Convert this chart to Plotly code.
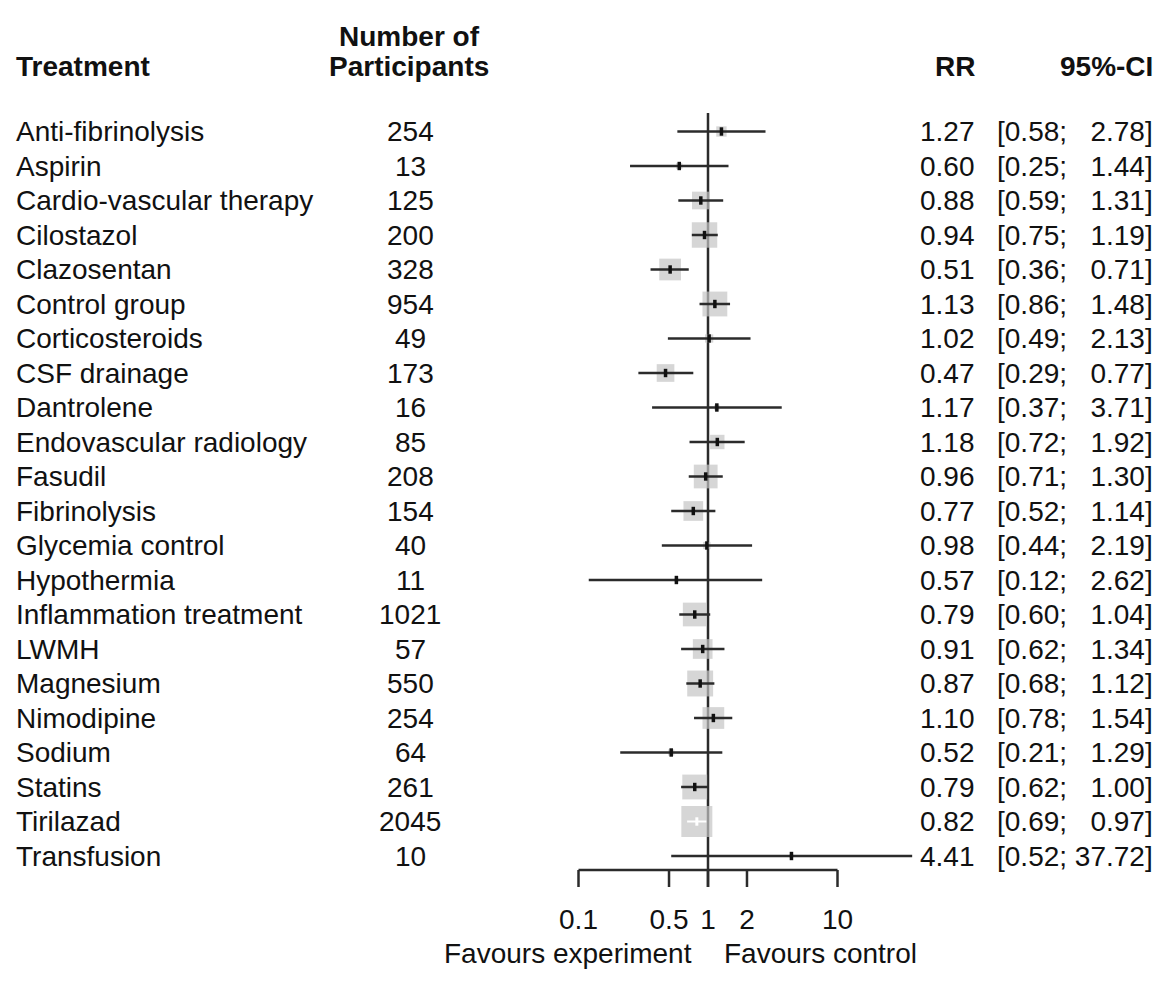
import math
import plotly.graph_objects as go

# forest plot data (risk ratios per treatment)
treatments = [
    "Anti-fibrinolysis", "Aspirin", "Cardio-vascular therapy", "Cilostazol",
    "Clazosentan", "Control group", "Corticosteroids", "CSF drainage",
    "Dantrolene", "Endovascular radiology", "Fasudil", "Fibrinolysis",
    "Glycemia control", "Hypothermia", "Inflammation treatment", "LWMH",
    "Magnesium", "Nimodipine", "Sodium", "Statins", "Tirilazad", "Transfusion",
]
participants = [254, 13, 125, 200, 328, 954, 49, 173, 16, 85, 208, 154,
                40, 11, 1021, 57, 550, 254, 64, 261, 2045, 10]
rr = [1.27, 0.60, 0.88, 0.94, 0.51, 1.13, 1.02, 0.47, 1.17, 1.18, 0.96,
      0.77, 0.98, 0.57, 0.79, 0.91, 0.87, 1.10, 0.52, 0.79, 0.82, 4.41]
ci_low = [0.58, 0.25, 0.59, 0.75, 0.36, 0.86, 0.49, 0.29, 0.37, 0.72, 0.71,
          0.52, 0.44, 0.12, 0.60, 0.62, 0.68, 0.78, 0.21, 0.62, 0.69, 0.52]
ci_high = [2.78, 1.44, 1.31, 1.19, 0.71, 1.48, 2.13, 0.77, 3.71, 1.92, 1.30,
           1.14, 2.19, 2.62, 1.04, 1.34, 1.12, 1.54, 1.29, 1.00, 0.97, 37.72]
# relative weights (%) -> square area
weights = [1.4, 0.5, 4.1, 8.5, 6.2, 8.1, 0.9, 4.1, 0.4, 2.7, 7.4, 5.1,
           0.7, 0.2, 7.4, 5.1, 8.8, 6.2, 0.5, 8.1, 12.6, 0.2]
tick_vals = [0.1, 0.5, 1, 2, 10]
tick_text = ["0.1", "0.5", "1", "2", "10"]

W, H = 1170, 985
ROW0, ROW_STEP = 131.5, 34.5   # pixel y of first row, row spacing
X_ONE, DECADE = 708, 129.5     # pixel x of RR=1, pixels per decade
FONT = 28
MAX_SIDE = 31
LINE_COL = "#2b2b2b"


def row_of(py):
    return (py - ROW0) / ROW_STEP


def xpix(v):
    return X_ONE + DECADE * math.log10(v)


rows = list(range(len(treatments)))
sides = [MAX_SIDE * math.sqrt(w / max(weights)) for w in weights]

fig = go.Figure()

# reference line at RR = 1
fig.add_trace(go.Scatter(x=[1, 1], y=[row_of(113), row_of(887)], mode="lines",
                         line=dict(color=LINE_COL, width=2.5), hoverinfo="skip"))

# x axis line + ticks
ax_y = row_of(870)
tick_y = row_of(887)
tx, ty = [], []
for t in tick_vals:
    tx += [t, t, None]
    ty += [ax_y, tick_y, None]
fig.add_trace(go.Scatter(x=[tick_vals[0], tick_vals[-1]], y=[ax_y, ax_y], mode="lines",
                         line=dict(color=LINE_COL, width=2.5), hoverinfo="skip"))
fig.add_trace(go.Scatter(x=tx, y=ty, mode="lines",
                         line=dict(color=LINE_COL, width=2.5), hoverinfo="skip"))
fig.add_trace(go.Scatter(x=tick_vals, y=[row_of(922)] * len(tick_vals), mode="text",
                         text=tick_text, textposition="middle center",
                         textfont=dict(size=FONT, color="#111"), cliponaxis=False,
                         hoverinfo="skip"))

# weight squares
fig.add_trace(go.Scatter(x=rr, y=rows, mode="markers", hoverinfo="skip",
                         marker=dict(symbol="square", size=sides, color="#c4c4c4",
                                     line=dict(width=0))))

# CI lines, white when they fit inside the square
bx, by, wx, wy = [], [], [], []
bpx, bpy, wpx, wpy = [], [], [], []
for i in rows:
    c = xpix(rr[i])
    inside = xpix(ci_low[i]) >= c - sides[i] / 2 and xpix(ci_high[i]) <= c + sides[i] / 2
    if inside:
        wx += [ci_low[i], ci_high[i], None]
        wy += [i, i, None]
        wpx.append(rr[i])
        wpy.append(i)
    else:
        bx += [ci_low[i], ci_high[i], None]
        by += [i, i, None]
        bpx.append(rr[i])
        bpy.append(i)

fig.add_trace(go.Scatter(x=bx, y=by, mode="lines", line=dict(color=LINE_COL, width=2.5),
                         hoverinfo="skip"))
fig.add_trace(go.Scatter(x=wx, y=wy, mode="lines", line=dict(color="white", width=2),
                         hoverinfo="skip"))
fig.add_trace(go.Scatter(x=bpx, y=bpy, mode="markers", hoverinfo="skip",
                         marker=dict(symbol="line-ns", size=6,
                                     line=dict(color="#111", width=3.5))))
fig.add_trace(go.Scatter(x=wpx, y=wpy, mode="markers", hoverinfo="skip",
                         marker=dict(symbol="line-ns", size=6,
                                     line=dict(color="white", width=3))))

# text columns
ann = []


def add_text(text, px, py, anchor, bold=False):
    ann.append(dict(text="<b>%s</b>" % text if bold else text,
                    x=px / W, xref="paper", xanchor=anchor,
                    y=py, yref="y", yanchor="middle",
                    showarrow=False, font=dict(size=FONT, color="#111")))


add_text("Treatment", 14, row_of(66), "left", bold=True)
add_text("Number of", 409, row_of(36), "center", bold=True)
add_text("Participants", 409, row_of(66), "center", bold=True)
add_text("RR", 977, row_of(66), "right", bold=True)
add_text("95%-CI", 1155, row_of(66), "right", bold=True)

hi_len = max(len("%.2f" % h) for h in ci_high)
for i in rows:
    hs = "%.2f" % ci_high[i]
    pad = "\u00a0" * (1 + 2 * (hi_len - len(hs)))
    add_text(treatments[i], 14, i, "left")
    add_text(str(participants[i]), 410, i, "center")
    add_text("%.2f" % rr[i], 977, i, "right")
    add_text("[%.2f;%s%s]" % (ci_low[i], pad, hs), 1155, i, "right")

add_text("Favours experiment", 694, row_of(953), "right")
add_text("Favours control", 722, row_of(953), "left")

fig.update_layout(
    width=W, height=H,
    margin=dict(l=0, r=0, t=0, b=0),
    paper_bgcolor="white", plot_bgcolor="white",
    showlegend=False,
    font=dict(family="Liberation Sans, Arial, sans-serif", color="#111"),
    xaxis=dict(type="log", range=[(0 - X_ONE) / DECADE, (W - X_ONE) / DECADE],
               visible=False, fixedrange=True),
    yaxis=dict(range=[row_of(H), row_of(0)], visible=False, fixedrange=True),
    annotations=ann,
)

# drop the default page margin so the figure sits at the window origin
fig.write_html("out.html", config={"displayModeBar": False},
               post_script="document.body.style.margin='0';")
